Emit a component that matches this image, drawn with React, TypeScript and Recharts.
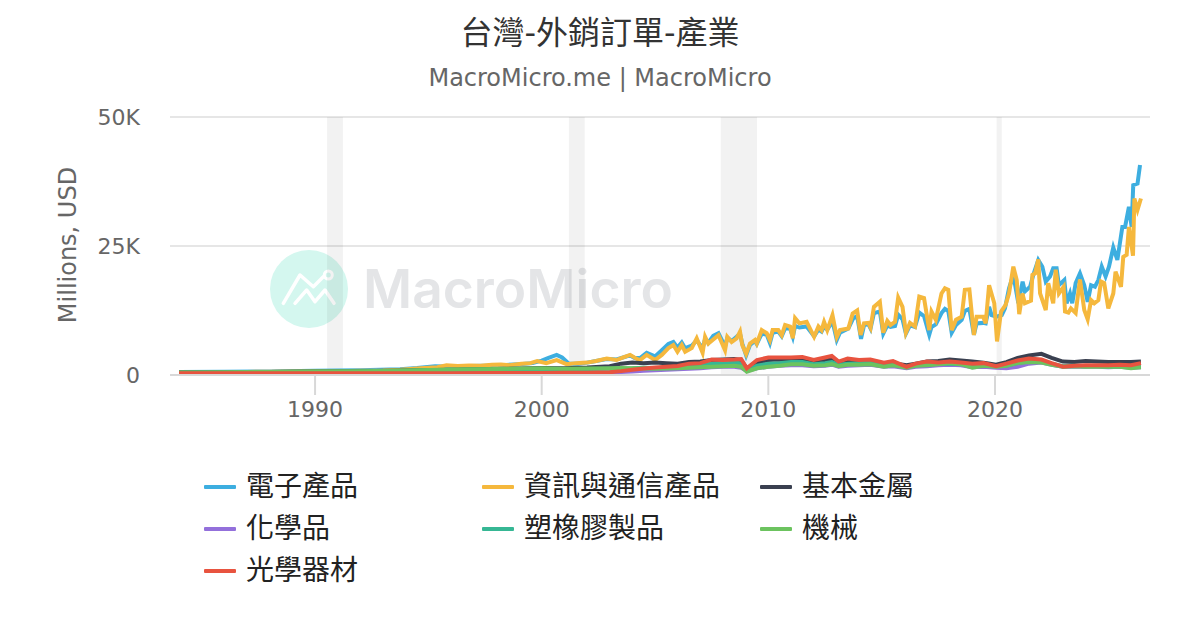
import React from "react";
import { LineChart, Line, XAxis, YAxis, CartesianGrid, ReferenceArea } from "recharts";

const TITLE = "台灣-外銷訂單-產業";
const SUBTITLE = "MacroMicro.me | MacroMicro";
const Y_LABEL = "Millions, USD";
const yTicks = [0, 25, 50];
const xTicks = [1990, 2000, 2010, 2020];
const recessions = [[1990.53, 1991.23], [2001.2, 2001.9], [2007.9, 2009.5], [2020.07, 2020.3]];

const infoYears = [1984,1985,1986,1987,1988,1989,1990,1991,1992,1993,1993.75,1994.5,1995,1995.4,1995.8,1996.3,1996.8,1997.3,1997.8,1998.2,1998.6,1999.1,1999.5,1999.8,2000.2,2000.66,2001.1,2001.5,2002,2002.4,2002.87,2003.3,2003.6,2003.9,2004.2,
2004.34,2004.63,2005,2005.3,2005.59,2005.81,2005.99,2006.18,2006.33,2006.62,2006.84,2007.1,2007.21,2007.35,2007.8,2008.09,2008.19,2008.38,2008.6,2008.75,2008.85,2009.02,2009.19,2009.41,2009.49,2009.71,2009.93,2010.07,2010.19,2010.44,2010.59,2010.74,2010.96,2011.08,2011.18,2011.37,2011.69,2012.02,2012.21,2012.35,2012.46,2012.6,2012.83,2013.02,2013.16,2013.53,
2013.72,2013.92,2014.07,2014.22,2014.41,2014.51,2014.66,2014.92,2015.07,2015.25,2015.39,2015.59,2015.73,2015.92,2016.07,2016.25,2016.47,2016.66,2016.87,2017.1,2017.2,2017.39,2017.64,2017.79,2017.94,2018.09,2018.28,2018.53,2018.67,2018.87,2019.07,2019.19,2019.48,2019.59,
2019.74,2019.97,2020.09,2020.27,2020.47,2020.62,2020.81,2020.96,2021.07,2021.21,2021.32,2021.59,2021.65,2021.77,2021.91,2021.99,2022.24,2022.35,2022.57,2022.68,2022.82,2023.03,2023.09,2023.24,2023.35,2023.56,2023.75,2023.94,2024.09,2024.24,2024.38,2024.56,2024.68,2024.82,2025,2025.22,2025.32,2025.56,2025.66,2025.81,2025.91,2026.09,2026.15,2026.29,2026.44];
const infoValues = [.5,.45,.5,.6,.65,.7,.75,.75,.8,.85,1,1.25,1.4,1.5,1.9,1.75,1.85,1.8,2,2.05,1.9,2.2,2.3,2.7,2.3,2.9,2.1,2.3,2.4,2.7,3.2,2.9,3.4,3.9,3.1,
2.9,3.9,2.9,3.9,5.2,5.8,4.5,5.8,4.5,5.2,7.1,4.3,7.4,6.1,7.7,4.8,7.4,6.4,7.1,8.4,5.8,4.1,6.1,6.8,6.1,8.7,8.1,6.8,8.7,8.7,7.7,9.7,9.4,7.1,11,10,10.3,7.4,9.4,8.7,10.3,8.7,11.6,7.4,8.7,9,
11.9,12.5,7.75,10,10.1,9.2,13.2,14.2,8.2,10.5,9.7,10.3,15,13.2,8.2,10.1,9.4,15.2,14.9,8.7,12.3,10.7,15.8,16.8,16.5,8.7,10.7,11.3,16.5,16.6,7.75,11.3,11.3,10,
17.4,13.9,6.5,12.3,13.6,15.8,21,18.4,11.8,15.8,13.9,14.4,19.4,19.7,22.4,15.8,12.6,17.8,13.9,20.4,15.8,17.1,12.3,12.1,12.9,12,18.5,12.6,10.8,14.5,13.9,14.5,18.1,17.8,12.9,15.8,20,17.1,22.9,23.3,28.7,23.1,34.2,32,34.2];

const electronicsYears = [1984,1986,1988,1990,1992,1993.75,1994.5,1995.3,1996,1996.8,1997.5,1998.2,1999,1999.6,2000,2000.3,2000.66,2000.9,2001.2,2001.6,2002,2002.4,2002.87,2003.3,2003.9,2004.1,
2004.34,2004.63,2005,2005.3,2005.59,2005.81,2005.99,2006.18,2006.33,2006.62,2006.84,2007.1,2007.21,2007.35,2007.57,2007.8,2008.09,2008.19,2008.38,2008.6,2008.75,2008.85,2009.02,2009.19,2009.41,2009.49,2009.71,2009.93,2010.07,2010.19,2010.44,2010.59,2010.74,2010.96,2011.08,2011.18,2011.37,2011.69,2012.02,2012.21,2012.35,2012.46,2012.6,2012.83,2013.02,2013.16,2013.53,
2013.75,2013.92,2014.09,2014.22,2014.41,2014.51,2014.66,2014.92,2015.07,2015.25,2015.39,2015.59,2015.73,2015.92,2016.07,2016.25,2016.47,2016.66,2016.87,2017.1,2017.2,2017.39,2017.64,2017.79,2017.94,2018.09,2018.28,2018.53,2018.67,2018.87,2019.07,2019.19,2019.48,2019.59,2019.74,
2019.85,2020.07,2020.3,2020.44,2020.62,2020.81,2021.03,2021.22,2021.32,2021.55,2021.69,2021.91,2022.09,2022.24,2022.43,2022.57,2022.72,2022.82,2023.06,2023.16,2023.31,2023.41,2023.56,2023.75,2023.94,2024.09,2024.24,2024.41,2024.56,2024.71,2024.88,2025.03,2025.22,2025.4,2025.62,2025.74,2025.91,2026.03,2026.1,2026.29,2026.4];
const electronicsValues = [.6,.65,.7,.8,.9,1.1,1.35,1.7,1.6,1.75,1.8,1.9,2.1,2.3,2.8,3.3,3.9,3.4,2.2,2.2,2.4,2.7,3.1,3,3.8,3.3,
3.3,4.3,3.6,4.8,6,6.4,5.3,6.3,5.2,5.7,6.7,5.2,7,6.2,7.6,8.1,5.5,7.2,6.6,7.4,8,6.1,3.8,5.8,6.6,6,8,7.8,6.2,8.2,8.4,7.5,9,9,7.4,9.5,9.2,9.4,7.5,8.8,8.4,9.4,8.8,10.4,6.8,8.2,9,
11,11.4,7,9.6,9.9,9,12,12.3,8,9.6,9.3,9.5,11.7,10.8,8,9.6,9.3,12.1,11.4,7.8,9.3,9.8,12,12.8,12.4,8.2,9.7,10.7,12.4,12.8,7.8,10,10.1,10,13.2,
11.6,11.3,11.6,12.9,16.8,19.4,13.9,18.1,16.2,17.1,19.4,22.3,21,18.1,19.1,20.7,20.7,17.4,18.4,13.9,15.8,13.9,17.8,19.7,17.4,14.2,17.4,17.1,18.4,21,19.1,21,24.7,22.3,28.7,28.7,32.6,28.7,36.8,37.1,40.7];

const lowYears = [1984,1986,1988,1990,1992,1994,1996,1998,2000,2001,2002,2003,2003.5,2004,2004.5,2005,2005.5,2006,2006.5,2007,2007.5,2008,2008.5,2008.8,2009.05,2009.5,2010,2010.5,2011,2011.5,2012,2012.5,2012.8,2013.1,2013.5,2014,2014.5,2015.1,2015.5,2016.1,2016.5,2017,2017.5,2018,2018.5,2019,2019.5,2020.05,2020.5,2021,2021.5,2022.05,2022.5,2023,2023.5,2024,2024.5,2025,2025.5,2026,2026.44];
const metalValues = [.5,.55,.6,.7,.75,.85,1,1.15,1.35,1.3,1.45,1.7,2.2,2.4,2.3,2.4,2.3,2.2,2.5,2.6,2.9,3,3.1,2.9,1.3,2.3,2.9,3,2.9,3,2.5,2.8,3,2.4,2.8,2.6,2.7,2.3,2.3,1.9,2.2,2.6,2.7,3,2.8,2.6,2.4,2,2.5,3.3,3.8,4.1,3.3,2.6,2.5,2.7,2.6,2.5,2.5,2.5,2.6];
const chemicalValues = [.3,.3,.3,.32,.35,.35,.35,.4,.4,.42,.45,.5,.6,.7,.8,.9,1,1.1,1.2,1.3,1.5,1.6,1.6,1.4,.8,1.3,1.6,1.8,1.9,1.9,1.7,1.8,2,1.6,1.8,1.9,2,1.6,1.7,1.3,1.6,1.7,1.9,2,1.9,1.5,1.6,1.4,1.3,1.6,2.2,2.4,2,1.6,1.6,1.6,1.6,1.5,1.6,1.4,1.5];
const plasticValues = [.45,.5,.6,.65,.7,.8,.95,1.05,1.15,1.1,1.15,1.2,1.25,1.3,1.4,1.35,1.4,1.5,1.7,1.9,2.2,2.2,2.4,2.2,.9,1.8,2.2,2.3,2.5,2.5,2.1,2.3,2.5,2,2.2,2.3,2.4,2,2.1,1.6,1.9,2,2.2,2.2,2.1,1.6,1.9,1.7,1.8,2.3,2.6,2.6,2.2,1.7,1.8,1.7,1.8,1.6,1.7,1.5,1.6];
const machineryValues = [.5,.55,.6,.7,.75,.85,1.05,1.15,1.3,1.2,1.25,1.3,1.35,1.3,1.25,1.2,1.25,1.3,1.4,1.5,1.6,1.7,1.8,1.6,.65,1.3,1.6,1.8,2.1,2.1,1.8,1.9,2.1,1.7,2,2,2.1,1.6,1.9,1.4,1.8,1.9,2.1,2.3,2.1,1.4,1.8,1.6,1.8,2.3,2.5,2.4,2,1.6,1.7,1.6,1.6,1.6,1.6,1.3,1.5];
const opticsValues = [.35,.33,.34,.35,.36,.35,.36,.38,.4,.42,.45,.55,.75,1,1.25,1.45,1.6,1.75,2.2,2.3,3,2.9,3,3.1,1.3,2.9,3.4,3.4,3.4,3.5,2.9,3.4,3.7,2.6,3.2,2.9,3,2.4,2.7,1.6,2.2,2.6,2.4,2.6,2.4,2.2,2.3,1.7,2.2,2.8,3.2,3,2.3,1.6,1.8,1.9,1.9,1.9,2,1.9,2.3];

const toPoints = (years: number[], values: number[]) => years.map((t, i) => ({ t, v: values[i] }));

const series = [
  { name: "電子產品", color: "#3daee0", data: toPoints(electronicsYears, electronicsValues) },
  { name: "資訊與通信產品", color: "#f5b83d", data: toPoints(infoYears, infoValues) },
  { name: "基本金屬", color: "#3a4050", data: toPoints(lowYears, metalValues) },
  { name: "化學品", color: "#9370db", data: toPoints(lowYears, chemicalValues) },
  { name: "塑橡膠製品", color: "#36b794", data: toPoints(lowYears, plasticValues) },
  { name: "機械", color: "#6cc35f", data: toPoints(lowYears, machineryValues) },
  { name: "光學器材", color: "#e8533f", data: toPoints(lowYears, opticsValues) },
];

const FONT = '"DejaVu Sans", "Noto Sans CJK TC", sans-serif';
const legendX = [204, 482, 760];
const legendY = [487, 529, 571];

const at = (left: number, top: number): React.CSSProperties => ({ position: "absolute", left, top, whiteSpace: "nowrap" });

export default function App() {
  return (
    <div style={{ position: "absolute", left: 0, top: 0, width: 1200, height: 630, background: "#fff", fontFamily: FONT, overflow: "hidden" }}>
      <svg width={1200} height={630} style={{ position: "absolute", left: 0, top: 0 }}>
        <circle cx={309} cy={289} r={39} fill="#d4f7ef" />
        <polyline points="283.3,303.3 300,275 313.3,286.7 323.3,276.7" fill="none" stroke="#fff" strokeWidth={3.5} strokeLinecap="round" strokeLinejoin="round" />
        <circle cx={328.3} cy={275} r={4} fill="none" stroke="#fff" strokeWidth={3} />
        <polyline points="295,303.3 306.7,290 315,301.7 325,290 334,303.3" fill="none" stroke="#fff" strokeWidth={3.5} strokeLinecap="round" strokeLinejoin="round" />
        <text x={363} y={308} fontFamily="Inter" fontWeight={600} fontSize={53} fill="#e4e5e7" textLength={310} lengthAdjust="spacingAndGlyphs">MacroMicro</text>
      </svg>
      <div style={{ position: "absolute", left: 0, top: 0 }}>
        <LineChart width={1200} height={630} margin={{ top: 117, right: 50, bottom: 0, left: 0 }}>
          <CartesianGrid vertical={false} stroke="#e6e6e6" strokeWidth={2} />
          {recessions.map(([a, b]) => (
            <ReferenceArea key={a} x1={a} x2={b} y1={0} y2={50} fill="#000" fillOpacity={0.05} stroke="none" />
          ))}
          <XAxis
            type="number"
            dataKey="t"
            domain={[1983.6, 2026.84]}
            ticks={xTicks}
            height={255}
            allowDataOverflow
            stroke="#d8d8d8"
            strokeWidth={2}
            tickSize={20}
            tickMargin={6}
            tick={{ fill: "#666", fontSize: 22, fontFamily: FONT }}
          />
          <YAxis
            type="number"
            dataKey="v"
            domain={[0, 50]}
            ticks={yTicks}
            width={170}
            axisLine={false}
            tickLine={false}
            tickMargin={24}
            tickFormatter={(v: number) => (v === 0 ? "0" : `${v}K`)}
            tick={{ fill: "#666", fontSize: 22, fontFamily: FONT }}
          />
          {series.map((s) => (
            <Line key={s.name} data={s.data} name={s.name} dataKey="v" type="linear" stroke={s.color} strokeWidth={4} dot={false} isAnimationActive={false} />
          ))}
        </LineChart>
      </div>
      <div style={{ ...at(0, 13), width: 1200, textAlign: "center", fontSize: 32, lineHeight: "40px", color: "#333" }}>{TITLE}</div>
      <div style={{ ...at(0, 63), width: 1200, textAlign: "center", fontSize: 24, lineHeight: "30px", color: "#666" }}>{SUBTITLE}</div>
      <div style={{ position: "absolute", left: 68, top: 245, transform: "translate(-50%,-50%) rotate(-90deg)", fontSize: 24, color: "#666", whiteSpace: "nowrap" }}>{Y_LABEL}</div>
      {series.map((s, i) => {
        const x = legendX[i % 3];
        const y = legendY[Math.floor(i / 3)];
        return (
          <div key={s.name}>
            <div style={{ position: "absolute", left: x, top: y - 2, width: 32, height: 4, background: s.color, borderRadius: 1 }} />
            <div style={{ ...at(x + 42, y - 20), fontSize: 28, lineHeight: "40px", color: "#222" }}>{s.name}</div>
          </div>
        );
      })}
    </div>
  );
}
